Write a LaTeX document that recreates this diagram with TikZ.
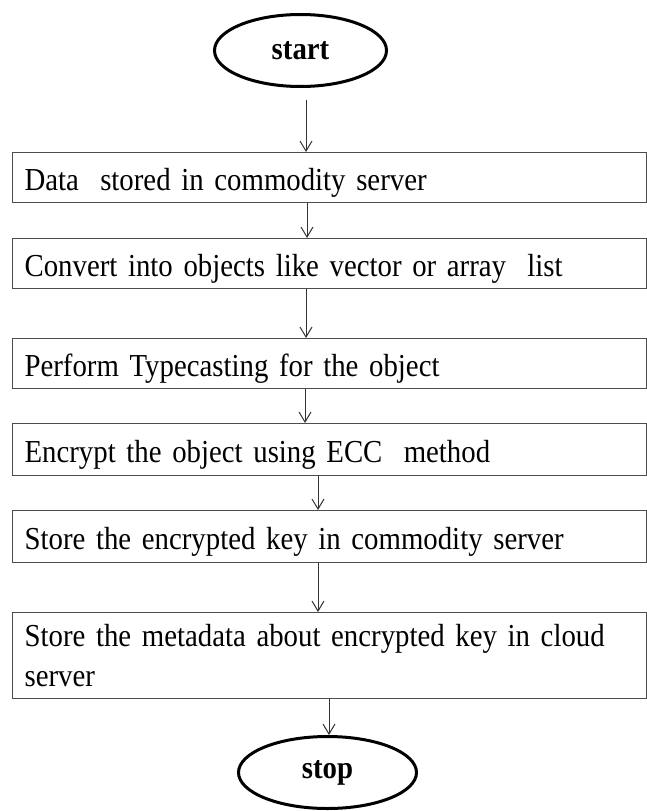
\documentclass[tikz,border=0pt]{standalone}
\usepackage{fontspec}
\setmainfont[FakeStretch=0.9]{Liberation Serif}
\usetikzlibrary{arrows.meta,shapes.geometric,calc}
\begin{document}
\begin{tikzpicture}[x=1pt,y=-1pt,
  procbox/.style={draw=black!70, line width=1.2pt, rectangle, minimum width=634pt, minimum height=50pt, text width=610pt, inner xsep=12pt, inner ysep=0pt, align=left, font=\fontsize{32}{40}\selectfont, anchor=north west},
  oneline/.style={text height=26pt, text depth=0pt},
  term/.style={draw=black, line width=3pt, ellipse, inner sep=0pt, font=\bfseries\fontsize{32}{36}\selectfont},
  arr/.style={draw=black!80, line width=1pt, -{Straight Barb[length=10pt,width=12pt]}}]
\useasboundingbox (0,0) rectangle (647,811);
\node[term, minimum width=172pt, minimum height=72pt] (start) at (300.5,50.5) {start};
\node[procbox, oneline] (b1) at (12,152) {Data\ \ stored in commodity server};
\node[procbox, oneline] (b2) at (12,238) {Convert into objects like vector or array\ \ list};
\node[procbox, oneline] (b3) at (12,338) {Perform Typecasting for the object};
\node[procbox, oneline, minimum height=52pt] (b4) at (12,423) {Encrypt the object using ECC\ \ method};
\node[procbox, oneline, minimum height=52pt] (b5) at (12,510) {Store the encrypted key in commodity server};
\node[procbox, minimum height=86pt] (b6) at (12,612) {Store the metadata about encrypted key in cloud\\server};
\node[term, minimum width=178pt, minimum height=72pt] (stop) at (327.5,772.5) {stop};
\coordinate (x1) at (306,0);
\coordinate (x2) at (307,0);
\coordinate (x4) at (305,0);
\coordinate (x5) at (318,0);
\coordinate (x7) at (329,0);
\draw[arr] ($(start.south -| x1)+(0,12)$) -- (b1.north -| x1);
\draw[arr] (b1.south -| x2) -- (b2.north -| x2);
\draw[arr] (b2.south -| x1) -- (b3.north -| x1);
\draw[arr] (b3.south -| x4) -- (b4.north -| x4);
\draw[arr] (b4.south -| x5) -- (b5.north -| x5);
\draw[arr] (b5.south -| x5) -- (b6.north -| x5);
\draw[arr] (b6.south -| x7) -- (stop.north -| x7);
\end{tikzpicture}
\end{document}
